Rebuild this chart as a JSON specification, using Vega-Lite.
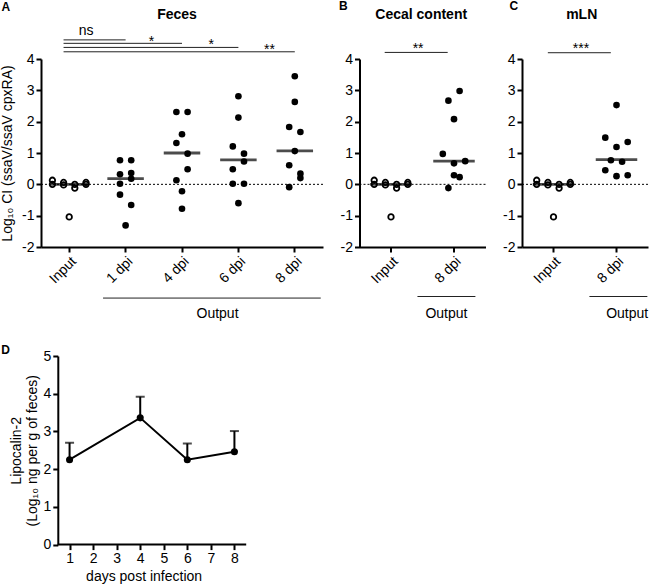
{
  "$schema": "https://vega.github.io/schema/vega-lite/v6.json",
  "padding": {"left": 0, "top": 0, "right": 0, "bottom": 0},
  "autosize": {"type": "pad"},
  "config": {
    "font": "Liberation Sans",
    "view": {"stroke": null},
    "axis": {"domainColor": "#000", "domainWidth": 2, "tickColor": "#000", "tickWidth": 2, "tickSize": 5, "labelFontSize": 14, "labelColor": "#000", "titleFontSize": 14, "titleFontWeight": "normal", "titleColor": "#000", "grid": false, "labelPadding": 2, "labelOverlap": false},
    "title": {"fontSize": 12, "fontWeight": "bold", "color": "#000"}
  },
  "datasets": {
    "pts": [
      {"panel": "A", "group": "Input", "slot": -3, "ci": 0.13}, {"panel": "A", "group": "Input", "slot": -3, "ci": 0.0}, {"panel": "A", "group": "Input", "slot": -1, "ci": 0.06}, {"panel": "A", "group": "Input", "slot": -1, "ci": -0.02}, {"panel": "A", "group": "Input", "slot": 1, "ci": 0.0}, {"panel": "A", "group": "Input", "slot": 1, "ci": -0.12}, {"panel": "A", "group": "Input", "slot": 3, "ci": 0.06}, {"panel": "A", "group": "Input", "slot": 3, "ci": 0.0}, {"panel": "A", "group": "Input", "slot": 0, "ci": -1.04},
      {"panel": "A", "group": "1 dpi", "slot": -1, "ci": 0.77}, {"panel": "A", "group": "1 dpi", "slot": 1, "ci": 0.77}, {"panel": "A", "group": "1 dpi", "slot": -1, "ci": 0.32}, {"panel": "A", "group": "1 dpi", "slot": 1, "ci": 0.36}, {"panel": "A", "group": "1 dpi", "slot": 1, "ci": 0.18}, {"panel": "A", "group": "1 dpi", "slot": -1, "ci": 0.02}, {"panel": "A", "group": "1 dpi", "slot": -1, "ci": -0.33}, {"panel": "A", "group": "1 dpi", "slot": 1, "ci": -0.66}, {"panel": "A", "group": "1 dpi", "slot": 0, "ci": -1.31},
      {"panel": "A", "group": "4 dpi", "slot": -1, "ci": 2.31}, {"panel": "A", "group": "4 dpi", "slot": 1, "ci": 2.31}, {"panel": "A", "group": "4 dpi", "slot": 0, "ci": 1.6}, {"panel": "A", "group": "4 dpi", "slot": -1, "ci": 1.32}, {"panel": "A", "group": "4 dpi", "slot": 1, "ci": 0.98}, {"panel": "A", "group": "4 dpi", "slot": 1, "ci": 0.48}, {"panel": "A", "group": "4 dpi", "slot": -1, "ci": 0.13}, {"panel": "A", "group": "4 dpi", "slot": 0, "ci": -0.22}, {"panel": "A", "group": "4 dpi", "slot": 0, "ci": -0.78},
      {"panel": "A", "group": "6 dpi", "slot": 0, "ci": 2.81}, {"panel": "A", "group": "6 dpi", "slot": 0, "ci": 2.13}, {"panel": "A", "group": "6 dpi", "slot": -1, "ci": 1.21}, {"panel": "A", "group": "6 dpi", "slot": 1, "ci": 0.98}, {"panel": "A", "group": "6 dpi", "slot": 1, "ci": 0.73}, {"panel": "A", "group": "6 dpi", "slot": -1, "ci": 0.48}, {"panel": "A", "group": "6 dpi", "slot": -1, "ci": 0.02}, {"panel": "A", "group": "6 dpi", "slot": 1, "ci": 0.02}, {"panel": "A", "group": "6 dpi", "slot": 0, "ci": -0.6},
      {"panel": "A", "group": "8 dpi", "slot": 0, "ci": 3.45}, {"panel": "A", "group": "8 dpi", "slot": 0, "ci": 2.63}, {"panel": "A", "group": "8 dpi", "slot": -1, "ci": 1.83}, {"panel": "A", "group": "8 dpi", "slot": 1, "ci": 1.67}, {"panel": "A", "group": "8 dpi", "slot": 0, "ci": 1.06}, {"panel": "A", "group": "8 dpi", "slot": -1, "ci": 0.61}, {"panel": "A", "group": "8 dpi", "slot": 1, "ci": 0.34}, {"panel": "A", "group": "8 dpi", "slot": 1, "ci": 0.2}, {"panel": "A", "group": "8 dpi", "slot": -1, "ci": -0.09},
      {"panel": "B", "group": "Input", "slot": -3, "ci": 0.13}, {"panel": "B", "group": "Input", "slot": -3, "ci": 0.0}, {"panel": "B", "group": "Input", "slot": -1, "ci": 0.06}, {"panel": "B", "group": "Input", "slot": -1, "ci": -0.02}, {"panel": "B", "group": "Input", "slot": 1, "ci": 0.0}, {"panel": "B", "group": "Input", "slot": 1, "ci": -0.12}, {"panel": "B", "group": "Input", "slot": 3, "ci": 0.06}, {"panel": "B", "group": "Input", "slot": 3, "ci": 0.0}, {"panel": "B", "group": "Input", "slot": 0, "ci": -1.04},
      {"panel": "B", "group": "8 dpi", "slot": 1, "ci": 2.98}, {"panel": "B", "group": "8 dpi", "slot": -1, "ci": 2.67}, {"panel": "B", "group": "8 dpi", "slot": 0, "ci": 2.08}, {"panel": "B", "group": "8 dpi", "slot": -2, "ci": 0.97}, {"panel": "B", "group": "8 dpi", "slot": 2, "ci": 0.74}, {"panel": "B", "group": "8 dpi", "slot": 0, "ci": 0.67}, {"panel": "B", "group": "8 dpi", "slot": 0, "ci": 0.29}, {"panel": "B", "group": "8 dpi", "slot": 1, "ci": 0.23}, {"panel": "B", "group": "8 dpi", "slot": -1, "ci": -0.12},
      {"panel": "C", "group": "Input", "slot": -3, "ci": 0.13}, {"panel": "C", "group": "Input", "slot": -3, "ci": 0.0}, {"panel": "C", "group": "Input", "slot": -1, "ci": 0.06}, {"panel": "C", "group": "Input", "slot": -1, "ci": -0.02}, {"panel": "C", "group": "Input", "slot": 1, "ci": 0.0}, {"panel": "C", "group": "Input", "slot": 1, "ci": -0.12}, {"panel": "C", "group": "Input", "slot": 3, "ci": 0.06}, {"panel": "C", "group": "Input", "slot": 3, "ci": 0.0}, {"panel": "C", "group": "Input", "slot": 0, "ci": -1.04},
      {"panel": "C", "group": "8 dpi", "slot": 0, "ci": 2.53}, {"panel": "C", "group": "8 dpi", "slot": -2, "ci": 1.49}, {"panel": "C", "group": "8 dpi", "slot": 2, "ci": 1.35}, {"panel": "C", "group": "8 dpi", "slot": 0, "ci": 1.19}, {"panel": "C", "group": "8 dpi", "slot": -1, "ci": 0.77}, {"panel": "C", "group": "8 dpi", "slot": 1, "ci": 0.72}, {"panel": "C", "group": "8 dpi", "slot": -2, "ci": 0.45}, {"panel": "C", "group": "8 dpi", "slot": 0, "ci": 0.26}, {"panel": "C", "group": "8 dpi", "slot": 2, "ci": 0.29}
    ],
    "med": [
      {"panel": "A", "group": "Input", "median": 0.0}, {"panel": "A", "group": "1 dpi", "median": 0.18}, {"panel": "A", "group": "4 dpi", "median": 1.0}, {"panel": "A", "group": "6 dpi", "median": 0.78}, {"panel": "A", "group": "8 dpi", "median": 1.07},
      {"panel": "B", "group": "Input", "median": 0.0}, {"panel": "B", "group": "8 dpi", "median": 0.74},
      {"panel": "C", "group": "Input", "median": 0.0}, {"panel": "C", "group": "8 dpi", "median": 0.79}
    ],
    "sig": [
      {"panel": "A", "x1": -0.1, "x2": 1, "y": 4.61, "label": "ns", "lx": 0.3, "ly": 4.77},
      {"panel": "A", "x1": -0.1, "x2": 2, "y": 4.5, "label": "*", "lx": 1.46, "ly": 4.42},
      {"panel": "A", "x1": -0.1, "x2": 3, "y": 4.37, "label": "*", "lx": 2.52, "ly": 4.31},
      {"panel": "A", "x1": -0.1, "x2": 4, "y": 4.23, "label": "**", "lx": 3.55, "ly": 4.15},
      {"panel": "B", "x1": -0.1, "x2": 0.9, "y": 4.21, "label": "**", "lx": 0.43, "ly": 4.2},
      {"panel": "C", "x1": -0.09, "x2": 0.91, "y": 4.2, "label": "***", "lx": 0.435, "ly": 4.2}
    ],
    "outp": [
      {"panel": "A", "x1": 0.6, "x2": 4.46, "y": -3.63, "tx": 2.63, "ty": -4.27, "label": "Output"},
      {"panel": "B", "x1": 0.42, "x2": 1.34, "y": -3.58, "tx": 0.88, "ty": -4.27, "label": "Output"},
      {"panel": "C", "x1": 0.57, "x2": 1.49, "y": -3.58, "tx": 1.17, "ty": -4.27, "label": "Output"}
    ],
    "lcn": [
      {"day": 1, "mean": 2.25, "upper": 2.7},
      {"day": 4, "mean": 3.36, "upper": 3.92},
      {"day": 6, "mean": 2.25, "upper": 2.68},
      {"day": 8, "mean": 2.46, "upper": 3.01}
    ]
  },
  "columns": 3,
  "bounds": "flush",
  "spacing": {"row": 109, "column": 36.5},
  "concat": [
    {
      "width": 282, "height": 188,
      "title": {"text": "A", "anchor": "start", "frame": "group", "dx": -39.5, "offset": -15.3, "baseline": "alphabetic"},
      "layer": [
        {"layer": [
          {"data": {"values": [{}]}, "mark": {"type": "rule", "strokeDash": [2, 2], "strokeWidth": 1, "color": "#000"},
           "encoding": {"y": {"datum": 0, "type": "quantitative", "scale": {"domain": [-2, 4], "nice": false, "zero": false},
             "axis": {"values": [-2, -1, 0, 1, 2, 3, 4], "tickCount": 20, "labelOverlap": false, "labelExpr": "'' + datum.value", "title": "Log₁₀ CI (ssaV/ssaV cpxRA)", "titleX": -29.8, "titleY": 94, "titleAngle": 270, "titleBaseline": "alphabetic", "titleAlign": "center"}}}},
          {"data": {"name": "pts"}, "transform": [{"filter": "datum.panel == 'A' && datum.group == 'Input'"}],
           "mark": {"type": "point", "shape": "circle", "filled": false, "size": 30, "strokeWidth": 1.8, "color": "#000", "opacity": 1},
           "encoding": {
             "x": {"field": "group", "type": "nominal", "scale": {"type": "band", "domain": ["Input", "1 dpi", "4 dpi", "6 dpi", "8 dpi"], "paddingInner": 0, "paddingOuter": 0}, "axis": {"title": null, "labelAngle": -45}},
             "xOffset": {"field": "slot", "type": "quantitative", "scale": {"domain": [-1, 1], "range": [22.6, 33.8], "nice": false, "zero": false}},
             "y": {"field": "ci", "type": "quantitative"}}},
          {"data": {"name": "pts"}, "transform": [{"filter": "datum.panel == 'A' && datum.group != 'Input'"}],
           "mark": {"type": "circle", "size": 44, "color": "#000", "opacity": 1},
           "encoding": {
             "x": {"field": "group", "type": "nominal"},
             "xOffset": {"field": "slot", "type": "quantitative"},
             "y": {"field": "ci", "type": "quantitative"}}},
          {"data": {"name": "med"}, "transform": [{"filter": "datum.panel == 'A'"}],
           "mark": {"type": "tick", "orient": "horizontal", "size": 36.5, "thickness": 2.8, "color": "#000"},
           "encoding": {
             "x": {"field": "group", "type": "nominal"},
             "y": {"field": "median", "type": "quantitative"}}}
        ]},
        {"layer": [
          {"data": {"name": "sig"}, "transform": [{"filter": "datum.panel == 'A'"}],
           "mark": {"type": "rule", "strokeWidth": 1, "color": "#222"},
           "encoding": {
             "x": {"field": "x1", "type": "quantitative", "scale": {"domain": [-0.5, 4.5], "nice": false, "zero": false},
               "axis": {"orient": "top", "title": "Feces", "labels": false, "ticks": false, "domain": false, "titleFontWeight": "bold", "titleFontSize": 14, "titleX": 135.5, "titleY": -40.7, "titleBaseline": "alphabetic", "titleAlign": "center", "titleAngle": 0}},
             "x2": {"field": "x2"},
             "y": {"field": "y", "type": "quantitative"}}},
          {"data": {"name": "sig"}, "transform": [{"filter": "datum.panel == 'A'"}],
           "mark": {"type": "text", "fontSize": 14, "baseline": "alphabetic", "align": "center", "color": "#000"},
           "encoding": {
             "x": {"field": "lx", "type": "quantitative"},
             "y": {"field": "ly", "type": "quantitative"},
             "text": {"field": "label"}}},
          {"data": {"name": "outp"}, "transform": [{"filter": "datum.panel == 'A'"}],
           "mark": {"type": "rule", "strokeWidth": 1, "color": "#222"},
           "encoding": {
             "x": {"field": "x1", "type": "quantitative"},
             "x2": {"field": "x2"},
             "y": {"field": "y", "type": "quantitative"}}},
          {"data": {"name": "outp"}, "transform": [{"filter": "datum.panel == 'A'"}],
           "mark": {"type": "text", "fontSize": 14, "baseline": "alphabetic", "align": "center", "color": "#000"},
           "encoding": {
             "x": {"field": "tx", "type": "quantitative"},
             "y": {"field": "ty", "type": "quantitative"},
             "text": {"field": "label"}}}
        ]}
      ],
      "resolve": {"scale": {"x": "independent", "xOffset": "independent"}}
    },
    {
      "width": 126, "height": 188,
      "title": {"text": "B", "anchor": "start", "frame": "group", "dx": -20.5, "offset": -15.3, "baseline": "alphabetic"},
      "layer": [
        {"layer": [
          {"data": {"values": [{}]}, "mark": {"type": "rule", "strokeDash": [2, 2], "strokeWidth": 1, "color": "#000"},
           "encoding": {"y": {"datum": 0, "type": "quantitative", "scale": {"domain": [-2, 4], "nice": false, "zero": false},
             "axis": {"values": [-2, -1, 0, 1, 2, 3, 4], "tickCount": 20, "labelOverlap": false, "labelExpr": "'' + datum.value", "title": null}}}},
          {"data": {"name": "pts"}, "transform": [{"filter": "datum.panel == 'B' && datum.group == 'Input'"}],
           "mark": {"type": "point", "shape": "circle", "filled": false, "size": 30, "strokeWidth": 1.8, "color": "#000", "opacity": 1},
           "encoding": {
             "x": {"field": "group", "type": "nominal", "scale": {"type": "band", "domain": ["Input", "8 dpi"], "paddingInner": 0, "paddingOuter": 0}, "axis": {"title": null, "labelAngle": -45}},
             "xOffset": {"field": "slot", "type": "quantitative", "scale": {"domain": [-1, 1], "range": [25.9, 37.1], "nice": false, "zero": false}},
             "y": {"field": "ci", "type": "quantitative"}}},
          {"data": {"name": "pts"}, "transform": [{"filter": "datum.panel == 'B' && datum.group != 'Input'"}],
           "mark": {"type": "circle", "size": 44, "color": "#000", "opacity": 1},
           "encoding": {
             "x": {"field": "group", "type": "nominal"},
             "xOffset": {"field": "slot", "type": "quantitative"},
             "y": {"field": "ci", "type": "quantitative"}}},
          {"data": {"name": "med"}, "transform": [{"filter": "datum.panel == 'B'"}],
           "mark": {"type": "tick", "orient": "horizontal", "size": 41.5, "thickness": 2.8, "color": "#000"},
           "encoding": {
             "x": {"field": "group", "type": "nominal"},
             "y": {"field": "median", "type": "quantitative"}}}
        ]},
        {"layer": [
          {"data": {"name": "sig"}, "transform": [{"filter": "datum.panel == 'B'"}],
           "mark": {"type": "rule", "strokeWidth": 1, "color": "#222"},
           "encoding": {
             "x": {"field": "x1", "type": "quantitative", "scale": {"domain": [-0.5, 1.5], "nice": false, "zero": false},
               "axis": {"orient": "top", "title": "Cecal content", "labels": false, "ticks": false, "domain": false, "titleFontWeight": "bold", "titleFontSize": 14, "titleX": 61.2, "titleY": -41, "titleBaseline": "alphabetic", "titleAlign": "center", "titleAngle": 0}},
             "x2": {"field": "x2"},
             "y": {"field": "y", "type": "quantitative"}}},
          {"data": {"name": "sig"}, "transform": [{"filter": "datum.panel == 'B'"}],
           "mark": {"type": "text", "fontSize": 14, "baseline": "alphabetic", "align": "center", "color": "#000"},
           "encoding": {
             "x": {"field": "lx", "type": "quantitative"},
             "y": {"field": "ly", "type": "quantitative"},
             "text": {"field": "label"}}},
          {"data": {"name": "outp"}, "transform": [{"filter": "datum.panel == 'B'"}],
           "mark": {"type": "rule", "strokeWidth": 1, "color": "#222"},
           "encoding": {
             "x": {"field": "x1", "type": "quantitative"},
             "x2": {"field": "x2"},
             "y": {"field": "y", "type": "quantitative"}}},
          {"data": {"name": "outp"}, "transform": [{"filter": "datum.panel == 'B'"}],
           "mark": {"type": "text", "fontSize": 14, "baseline": "alphabetic", "align": "center", "color": "#000"},
           "encoding": {
             "x": {"field": "tx", "type": "quantitative"},
             "y": {"field": "ty", "type": "quantitative"},
             "text": {"field": "label"}}}
        ]}
      ],
      "resolve": {"scale": {"x": "independent", "xOffset": "independent"}}
    },
    {
      "width": 126, "height": 188,
      "title": {"text": "C", "anchor": "start", "frame": "group", "dx": -12.5, "offset": -15.3, "baseline": "alphabetic"},
      "layer": [
        {"layer": [
          {"data": {"values": [{}]}, "mark": {"type": "rule", "strokeDash": [2, 2], "strokeWidth": 1, "color": "#000"},
           "encoding": {"y": {"datum": 0, "type": "quantitative", "scale": {"domain": [-2, 4], "nice": false, "zero": false},
             "axis": {"values": [-2, -1, 0, 1, 2, 3, 4], "tickCount": 20, "labelOverlap": false, "labelExpr": "'' + datum.value", "title": null}}}},
          {"data": {"name": "pts"}, "transform": [{"filter": "datum.panel == 'C' && datum.group == 'Input'"}],
           "mark": {"type": "point", "shape": "circle", "filled": false, "size": 30, "strokeWidth": 1.8, "color": "#000", "opacity": 1},
           "encoding": {
             "x": {"field": "group", "type": "nominal", "scale": {"type": "band", "domain": ["Input", "8 dpi"], "paddingInner": 0, "paddingOuter": 0}, "axis": {"title": null, "labelAngle": -45}},
             "xOffset": {"field": "slot", "type": "quantitative", "scale": {"domain": [-1, 1], "range": [25.9, 37.1], "nice": false, "zero": false}},
             "y": {"field": "ci", "type": "quantitative"}}},
          {"data": {"name": "pts"}, "transform": [{"filter": "datum.panel == 'C' && datum.group != 'Input'"}],
           "mark": {"type": "circle", "size": 44, "color": "#000", "opacity": 1},
           "encoding": {
             "x": {"field": "group", "type": "nominal"},
             "xOffset": {"field": "slot", "type": "quantitative"},
             "y": {"field": "ci", "type": "quantitative"}}},
          {"data": {"name": "med"}, "transform": [{"filter": "datum.panel == 'C'"}],
           "mark": {"type": "tick", "orient": "horizontal", "size": 41.5, "thickness": 2.8, "color": "#000"},
           "encoding": {
             "x": {"field": "group", "type": "nominal"},
             "y": {"field": "median", "type": "quantitative"}}}
        ]},
        {"layer": [
          {"data": {"name": "sig"}, "transform": [{"filter": "datum.panel == 'C'"}],
           "mark": {"type": "rule", "strokeWidth": 1, "color": "#222"},
           "encoding": {
             "x": {"field": "x1", "type": "quantitative", "scale": {"domain": [-0.5, 1.5], "nice": false, "zero": false},
               "axis": {"orient": "top", "title": "mLN", "labels": false, "ticks": false, "domain": false, "titleFontWeight": "bold", "titleFontSize": 14, "titleX": 59.2, "titleY": -41, "titleBaseline": "alphabetic", "titleAlign": "center", "titleAngle": 0}},
             "x2": {"field": "x2"},
             "y": {"field": "y", "type": "quantitative"}}},
          {"data": {"name": "sig"}, "transform": [{"filter": "datum.panel == 'C'"}],
           "mark": {"type": "text", "fontSize": 14, "baseline": "alphabetic", "align": "center", "color": "#000"},
           "encoding": {
             "x": {"field": "lx", "type": "quantitative"},
             "y": {"field": "ly", "type": "quantitative"},
             "text": {"field": "label"}}},
          {"data": {"name": "outp"}, "transform": [{"filter": "datum.panel == 'C'"}],
           "mark": {"type": "rule", "strokeWidth": 1, "color": "#222"},
           "encoding": {
             "x": {"field": "x1", "type": "quantitative"},
             "x2": {"field": "x2"},
             "y": {"field": "y", "type": "quantitative"}}},
          {"data": {"name": "outp"}, "transform": [{"filter": "datum.panel == 'C'"}],
           "mark": {"type": "text", "fontSize": 14, "baseline": "alphabetic", "align": "center", "color": "#000"},
           "encoding": {
             "x": {"field": "tx", "type": "quantitative"},
             "y": {"field": "ty", "type": "quantitative"},
             "text": {"field": "label"}}}
        ]}
      ],
      "resolve": {"scale": {"x": "independent", "xOffset": "independent"}}
    },
    {
      "width": 205.2, "height": 188.6,
      "title": {"text": "D", "anchor": "start", "frame": "group", "dx": -39.8, "offset": -17.4, "baseline": "alphabetic"},
      "layer": [
        {"data": {"values": [{}]}, "mark": {"type": "rule", "strokeWidth": 2, "color": "#000"},
         "encoding": {
           "x": {"datum": 0.5, "type": "quantitative", "scale": {"domain": [-0.213, 8.5], "nice": false, "zero": false},
             "axis": {"values": [1, 2, 3, 4, 5, 6, 7, 8], "tickCount": 20, "labelOverlap": false, "labelExpr": "'' + datum.value", "domain": false, "title": "days post infection", "labelAngle": 0}},
           "x2": {"datum": 8.5},
           "y": {"datum": 0, "type": "quantitative", "scale": {"domain": [0, 5], "nice": false, "zero": false},
             "axis": {"values": [0, 1, 2, 3, 4, 5], "tickCount": 20, "labelOverlap": false, "format": "d", "offset": -16.8, "title": ["Lipocalin-2", "(Log₁₀ ng per g of feces)"]}}}},
        {"data": {"name": "lcn"}, "mark": {"type": "rule", "strokeWidth": 2, "color": "#000"},
         "encoding": {
           "x": {"field": "day", "type": "quantitative"},
           "y": {"field": "mean", "type": "quantitative"},
           "y2": {"field": "upper"}}},
        {"data": {"name": "lcn"}, "mark": {"type": "tick", "orient": "horizontal", "size": 9, "thickness": 2, "color": "#000"},
         "encoding": {
           "x": {"field": "day", "type": "quantitative"},
           "y": {"field": "upper", "type": "quantitative"}}},
        {"data": {"name": "lcn"}, "mark": {"type": "line", "strokeWidth": 2, "color": "#000"},
         "encoding": {
           "x": {"field": "day", "type": "quantitative"},
           "y": {"field": "mean", "type": "quantitative"}}},
        {"data": {"name": "lcn"}, "mark": {"type": "circle", "size": 50, "color": "#000", "opacity": 1},
         "encoding": {
           "x": {"field": "day", "type": "quantitative"},
           "y": {"field": "mean", "type": "quantitative"}}}
      ]
    }
  ]
}
